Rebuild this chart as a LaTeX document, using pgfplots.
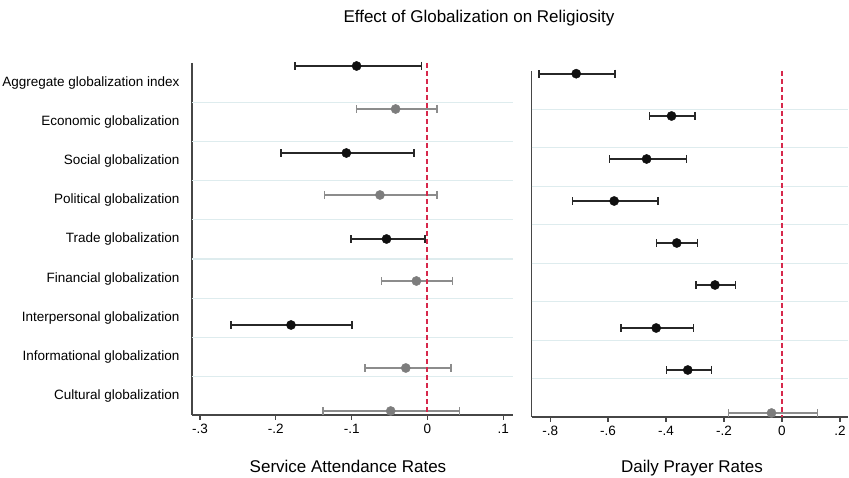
\documentclass[border=0pt]{standalone}
\usepackage{pgfplots}
\usepackage{pgfplotstable}
\pgfplotsset{compat=1.18}
\usepackage{fontspec}
\setmainfont{Liberation Sans}

\definecolor{axisgray}{RGB}{70,70,70}
\definecolor{sigcol}{RGB}{15,15,15}
\definecolor{nscol}{RGB}{125,125,125}
\definecolor{nsbar}{RGB}{140,140,140}
\definecolor{refred}{RGB}{215,40,75}
\definecolor{gridcol}{RGB}{222,236,238}

% Service attendance: significant (black)
\pgfplotstableread{
x y em ep
-0.0935 66 0.0815 0.0855
-0.107 153 0.086 0.0894
-0.054 239 0.0466 0.0505
-0.180 325 0.079 0.0807
}\leftsig
% Service attendance: not significant (gray)
\pgfplotstableread{
x y em ep
-0.042 109 0.052 0.0544
-0.0627 195 0.0728 0.0751
-0.0146 281 0.0458 0.0476
-0.0286 368 0.0539 0.0596
-0.0485 411 0.0895 0.0905
}\leftns
% Daily prayer: significant
\pgfplotstableread{
x y em ep
-0.710 73.7 0.128 0.133
-0.381 116 0.076 0.081
-0.467 159 0.128 0.137
-0.579 201 0.143 0.152
-0.363 243 0.070 0.071
-0.231 285 0.066 0.070
-0.434 328 0.122 0.128
-0.325 370 0.074 0.082
}\rightsig
% Daily prayer: not significant
\pgfplotstableread{
x y em ep
-0.036 413 0.149 0.159
}\rightns

\pgfplotsset{
  coefstyle/.style={
    scale only axis, clip=false, y dir=reverse,
    axis x line*=bottom, axis y line*=left,
    axis line style={-, draw=axisgray, line width=1.5pt},
    x tick style={draw=axisgray, line width=1.2pt},
    tick align=outside, major tick length=5pt,
    y tick style={draw=none},
    xticklabel style={font=\fontsize{13.5}{16}\selectfont, text=black, yshift=-1pt},
    yticklabel style={font=\fontsize{13.5}{16}\selectfont, text=black, anchor=east, xshift=-4pt},
    extra tick style={grid=major, major grid style={draw=gridcol, line width=1.1pt}, tick style={draw=none}},
    extra y tick labels={},
  },
  sigplot/.style={only marks, mark=*, mark size=4.6pt, color=sigcol,
    error bars/.cd, x dir=both, x explicit, error mark=|,
    error bar style={line width=1.8pt, color=sigcol!90},
    error mark options={line width=1.5pt, mark size=4pt, color=sigcol!90}},
  nsplot/.style={only marks, mark=*, mark size=4.6pt, color=nscol,
    error bars/.cd, x dir=both, x explicit, error mark=|,
    error bar style={line width=1.4pt, color=nsbar},
    error mark options={line width=1.3pt, mark size=4pt, color=nsbar}},
}

\begin{document}
\begin{tikzpicture}
\path[use as bounding box] (0,0) rectangle (849pt,478pt);

\begin{axis}[coefstyle,
  at={(192pt,63pt)}, anchor=south west,
  width=321pt, height=352pt,
  xmin=-0.3106, xmax=0.1128, ymin=63, ymax=415,
  xtick={-0.3,-0.2,-0.1,0,0.1},
  xticklabels={-.3,-.2,-.1,0,.1},
  ytick={82.6,121.8,161,200.2,239.4,278.6,317.8,357,396.2},
  yticklabels={Aggregate globalization index, Economic globalization, Social globalization, Political globalization, Trade globalization, Financial globalization, Interpersonal globalization, Informational globalization, Cultural globalization},
  extra y ticks={102.2,141.4,180.6,219.8,259,298.2,337.4,376.6},
]
\addplot[nsplot] table[x=x, y=y, x error minus=em, x error plus=ep] {\leftns};
\addplot[sigplot] table[x=x, y=y, x error minus=em, x error plus=ep] {\leftsig};
\addplot[refred, line width=2pt, dash pattern=on 5pt off 3pt] coordinates {(0,63) (0,415)};
\end{axis}

\begin{axis}[coefstyle,
  at={(531.7pt,61pt)}, anchor=south west,
  width=316.3pt, height=346pt,
  xmin=-0.8636, xmax=0.228, ymin=71, ymax=417,
  xtick={-0.8,-0.6,-0.4,-0.2,0,0.2},
  xticklabels={-.8,-.6,-.4,-.2,0,.2},
  ytick=\empty,
  extra y ticks={109.4,147.9,186.3,224.8,263.2,301.7,340.1,378.6},
]
\addplot[nsplot] table[x=x, y=y, x error minus=em, x error plus=ep] {\rightns};
\addplot[sigplot] table[x=x, y=y, x error minus=em, x error plus=ep] {\rightsig};
\addplot[refred, line width=2pt, dash pattern=on 5pt off 3pt] coordinates {(0,71) (0,417)};
\end{axis}

\node[anchor=base, font=\fontsize{17}{20}\selectfont, text=black] at (479pt,455pt) {Effect of Globalization on Religiosity};
\node[anchor=base, font=\fontsize{17}{20}\selectfont, text=black] at (348pt,5pt) {Service Attendance Rates};
\node[anchor=base, font=\fontsize{17}{20}\selectfont, text=black] at (692pt,5pt) {Daily Prayer Rates};
\end{tikzpicture}
\end{document}
